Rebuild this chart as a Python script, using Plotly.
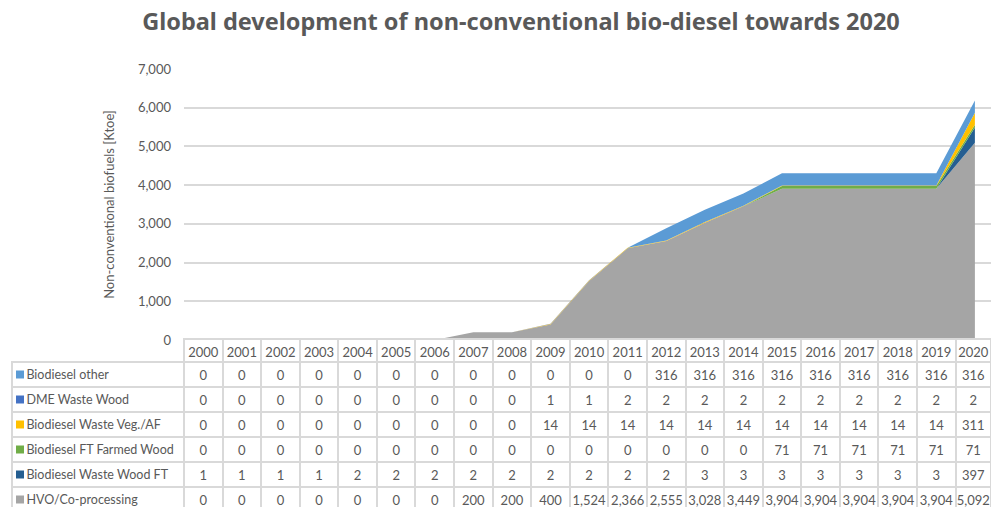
import plotly.graph_objects as go

years = list(range(2000, 2021))

# Series (bottom of stack first)
hvo = [0, 0, 0, 0, 0, 0, 0, 200, 200, 400, 1524, 2366, 2555, 3028, 3449, 3904, 3904, 3904, 3904, 3904, 5092]
waste_wood_ft = [1, 1, 1, 1, 2, 2, 2, 2, 2, 2, 2, 2, 2, 3, 3, 3, 3, 3, 3, 3, 397]
ft_farmed_wood = [0, 0, 0, 0, 0, 0, 0, 0, 0, 0, 0, 0, 0, 0, 0, 71, 71, 71, 71, 71, 71]
waste_veg_af = [0, 0, 0, 0, 0, 0, 0, 0, 0, 14, 14, 14, 14, 14, 14, 14, 14, 14, 14, 14, 311]
dme_waste_wood = [0, 0, 0, 0, 0, 0, 0, 0, 0, 1, 1, 2, 2, 2, 2, 2, 2, 2, 2, 2, 2]
biodiesel_other = [0, 0, 0, 0, 0, 0, 0, 0, 0, 0, 0, 0, 316, 316, 316, 316, 316, 316, 316, 316, 316]

series = [
    ("HVO/Co-processing", hvo, "#A5A5A5"),
    ("Biodiesel Waste Wood FT", waste_wood_ft, "#255E91"),
    ("Biodiesel FT Farmed Wood", ft_farmed_wood, "#70AD47"),
    ("Biodiesel Waste Veg./AF", waste_veg_af, "#FFC000"),
    ("DME Waste Wood", dme_waste_wood, "#4472C4"),
    ("Biodiesel other", biodiesel_other, "#5B9BD5"),
]

OFF = 0  # body margin removed via post_script
W, H = 991, 507
TXT = "#595959"
GRID = "#D9D9D9"
FONT = "Lato"

# layout geometry (page pixels)
plot_left = 184
col_w = 38.58
plot_top, plot_bottom = 69, 340
table_left = 12
header_top = 339
header_h, row_h = 23, 25


def px(x):
    return (x - OFF) / W


def py(y):
    return 1 - (y - OFF) / H


fig = go.Figure()
for name, vals, color in series:
    fig.add_trace(go.Scatter(
        x=years, y=vals, name=name, mode="lines",
        stackgroup="one", line=dict(width=0, color=color),
        fillcolor=color, showlegend=False, hoverinfo="x+y+name",
    ))

# data table (top row = top of stack)
rows = list(reversed(series))
first_col = ["\u00a0\u00a0" + n.replace(" ", "\u00a0") for n, _, _ in rows]
cols = [first_col] + [[f"{vals[i]:,}" for _, vals, _ in rows] for i in range(len(years))]
last_w = W - (plot_left + col_w * 20)
colwidths = [plot_left - table_left] + [col_w] * 20 + [last_w]

fig.add_trace(go.Table(
    domain=dict(x=[px(table_left), 1], y=[0, py(header_top)]),
    columnwidth=colwidths,
    header=dict(
        values=[""] + [str(y) for y in years],
        height=header_h,
        align="center",
        fill_color="rgba(0,0,0,0)",
        line=dict(color=["rgba(0,0,0,0)"] + [GRID] * 21, width=2),
        font=dict(family=FONT, size=13, color=TXT),
    ),
    cells=dict(
        values=cols,
        height=row_h,
        align=["left"] + ["center"] * 21,
        fill_color="white",
        line=dict(color=GRID, width=2),
        font=dict(family=FONT, size=[12.5] + [13] * 21, color=TXT),
    ),
))

# legend keys in the first table column
shapes = []
for i, (_, _, color) in enumerate(rows):
    cy = header_top + header_h + row_h * i + row_h / 2
    shapes.append(dict(
        type="rect", xref="paper", yref="paper",
        x0=px(16), x1=px(24), y0=py(cy + 4), y1=py(cy - 4),
        fillcolor=color, line=dict(width=0), layer="above",
    ))

x_range_right = 1999.5 + (W - plot_left) / col_w

fig.update_layout(
    width=W, height=H,
    margin=dict(l=0, r=0, t=0, b=0, autoexpand=False),
    paper_bgcolor="white", plot_bgcolor="white",
    font=dict(family=FONT, color=TXT),
    shapes=shapes,
    title=dict(
        text="<b>Global development of non-conventional bio-diesel towards 2020</b>",
        x=px(521), xanchor="center", y=py(22), yanchor="middle",
        font=dict(family="Noto Sans", size=23.5, color=TXT),
    ),
    xaxis=dict(
        domain=[px(plot_left), 1],
        range=[1999.5, x_range_right],
        showticklabels=False, showgrid=False, zeroline=False,
        ticks="", showline=False, fixedrange=True,
    ),
    yaxis=dict(
        domain=[py(plot_bottom), py(plot_top)],
        range=[0, 7000], dtick=1000, tickformat=",",
        showgrid=True, gridcolor=GRID, gridwidth=1.5,
        zeroline=False, showline=False, ticks="",
        ticklabelstandoff=12,
        tickfont=dict(family=FONT, size=13, color=TXT),
        title=dict(text="Non-conventional biofuels [Ktoe]", standoff=20,
                   font=dict(family=FONT, size=13, color=TXT)),
    ),
)

fig.write_html(
    "out.html",
    config={"displayModeBar": False},
    post_script="document.body.style.margin='0';document.body.style.overflow='hidden';",
)
